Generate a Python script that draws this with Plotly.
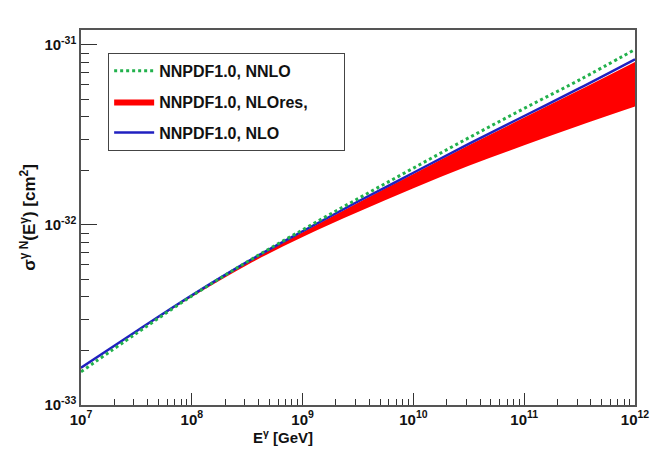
import plotly.graph_objects as go

# photon energy [GeV], half-decade steps
energy = [1e7, 3.16e7, 1e8, 3.16e8, 1e9, 3.16e9, 1e10, 3.16e10, 1e11, 3.16e11, 1e12]

# cross sections [cm^2]
sigma_nnlo = [1.53e-33, 2.50e-33, 4.03e-33, 6.24e-33, 9.40e-33, 1.40e-32,
              2.07e-32, 3.05e-32, 4.44e-32, 6.40e-32, 9.44e-32]
sigma_nlo = [1.61e-33, 2.57e-33, 4.07e-33, 6.24e-33, 9.23e-33, 1.35e-32,
             1.95e-32, 2.82e-32, 4.03e-32, 5.75e-32, 8.32e-32]
nlores_hi = [1.60e-33, 2.55e-33, 4.04e-33, 6.18e-33, 9.12e-33, 1.33e-32,
             1.92e-32, 2.77e-32, 3.95e-32, 5.62e-32, 8.05e-32]
nlores_lo = [1.59e-33, 2.54e-33, 3.98e-33, 6.00e-33, 8.57e-33, 1.18e-32,
             1.60e-32, 2.13e-32, 2.77e-32, 3.57e-32, 4.55e-32]

x_ticks = [1e7, 1e8, 1e9, 1e10, 1e11, 1e12]
x_labels = ["10<sup>7</sup>", "10<sup>8</sup>", "10<sup>9</sup>",
            "10<sup>10</sup>", "10<sup>11</sup>", "10<sup>12</sup>"]
y_ticks = [1e-33, 1e-32, 1e-31]
y_labels = ["10<sup>-33</sup>", "10<sup>-32</sup>", "10<sup>-31</sup>"]

pad = "\u00a0" * 7
font_name = "Liberation Sans, Arial"

fig = go.Figure()

fig.add_trace(go.Scatter(
    x=energy, y=nlores_lo, mode="lines", line=dict(width=0, color="red", shape="spline"),
    showlegend=False, hoverinfo="skip"))
fig.add_trace(go.Scatter(
    x=energy, y=nlores_hi, mode="lines", fill="tonexty", fillcolor="#ff0000",
    line=dict(width=0, color="red", shape="spline"), name="NNPDF1.0, NLOres," + pad,
    legendgroup="b", legendrank=2))
fig.add_trace(go.Scatter(
    x=energy, y=sigma_nlo, mode="lines",
    line=dict(color="#2020c0", width=2.5, shape="spline"),
    name="NNPDF1.0, NLO", legendgroup="c", legendrank=3))
fig.add_trace(go.Scatter(
    x=energy, y=sigma_nnlo, mode="lines",
    line=dict(color="#22b14c", width=3, dash="dot", shape="spline"),
    name="NNPDF1.0, NNLO", legendgroup="a", legendrank=1))

tick_font = dict(family=font_name, size=15, color="#111", weight="bold")
sp = "\u00a0"

# the page body adds 8px, so the figure is 8px smaller than the window
fig.update_layout(
    width=656, height=448,
    margin=dict(l=73, r=29, t=22, b=51),
    paper_bgcolor="white", plot_bgcolor="white",
    showlegend=True,
    legend=dict(
        x=0.049, y=0.939, xanchor="left", yanchor="top",
        bgcolor="white", bordercolor="#444", borderwidth=1,
        font=dict(family=font_name, size=16, color="#111", weight="bold"),
        itemwidth=40, tracegroupgap=7, traceorder="grouped",
    ),
    xaxis=dict(
        type="log", range=[7, 12],
        tickvals=x_ticks, ticktext=x_labels,
        ticks="inside", ticklen=12, tickcolor="#333",
        minor=dict(ticks="inside", ticklen=6, dtick="D1", tickcolor="#333", showgrid=False),
        showgrid=False, zeroline=False,
        showline=True, linecolor="#555", linewidth=1.5, mirror=True,
        tickfont=tick_font,
    ),
    yaxis=dict(
        type="log", range=[-33, -30.917],
        tickvals=y_ticks, ticktext=y_labels,
        ticks="inside", ticklen=16, tickcolor="#333",
        minor=dict(ticks="inside", ticklen=8, dtick="D1", tickcolor="#333", showgrid=False),
        showgrid=False, zeroline=False,
        showline=True, linecolor="#555", linewidth=1.5, mirror=True,
        tickfont=tick_font,
        title=dict(text="σ<sup>γ" + sp + "N</sup>(E<sup>γ</sup>)" + sp + "[cm<sup>2</sup>]",
                   font=dict(family=font_name, size=17, color="#111", weight="bold"),
                   standoff=4),
    ),
    annotations=[dict(
        text="E<sup>γ</sup> [GeV]", xref="paper", yref="paper",
        x=0.365, y=-0.085, xanchor="center", yanchor="middle", showarrow=False,
        font=dict(family=font_name, size=15, color="#111", weight="bold"),
    )],
)

fig.write_html("out.html")
